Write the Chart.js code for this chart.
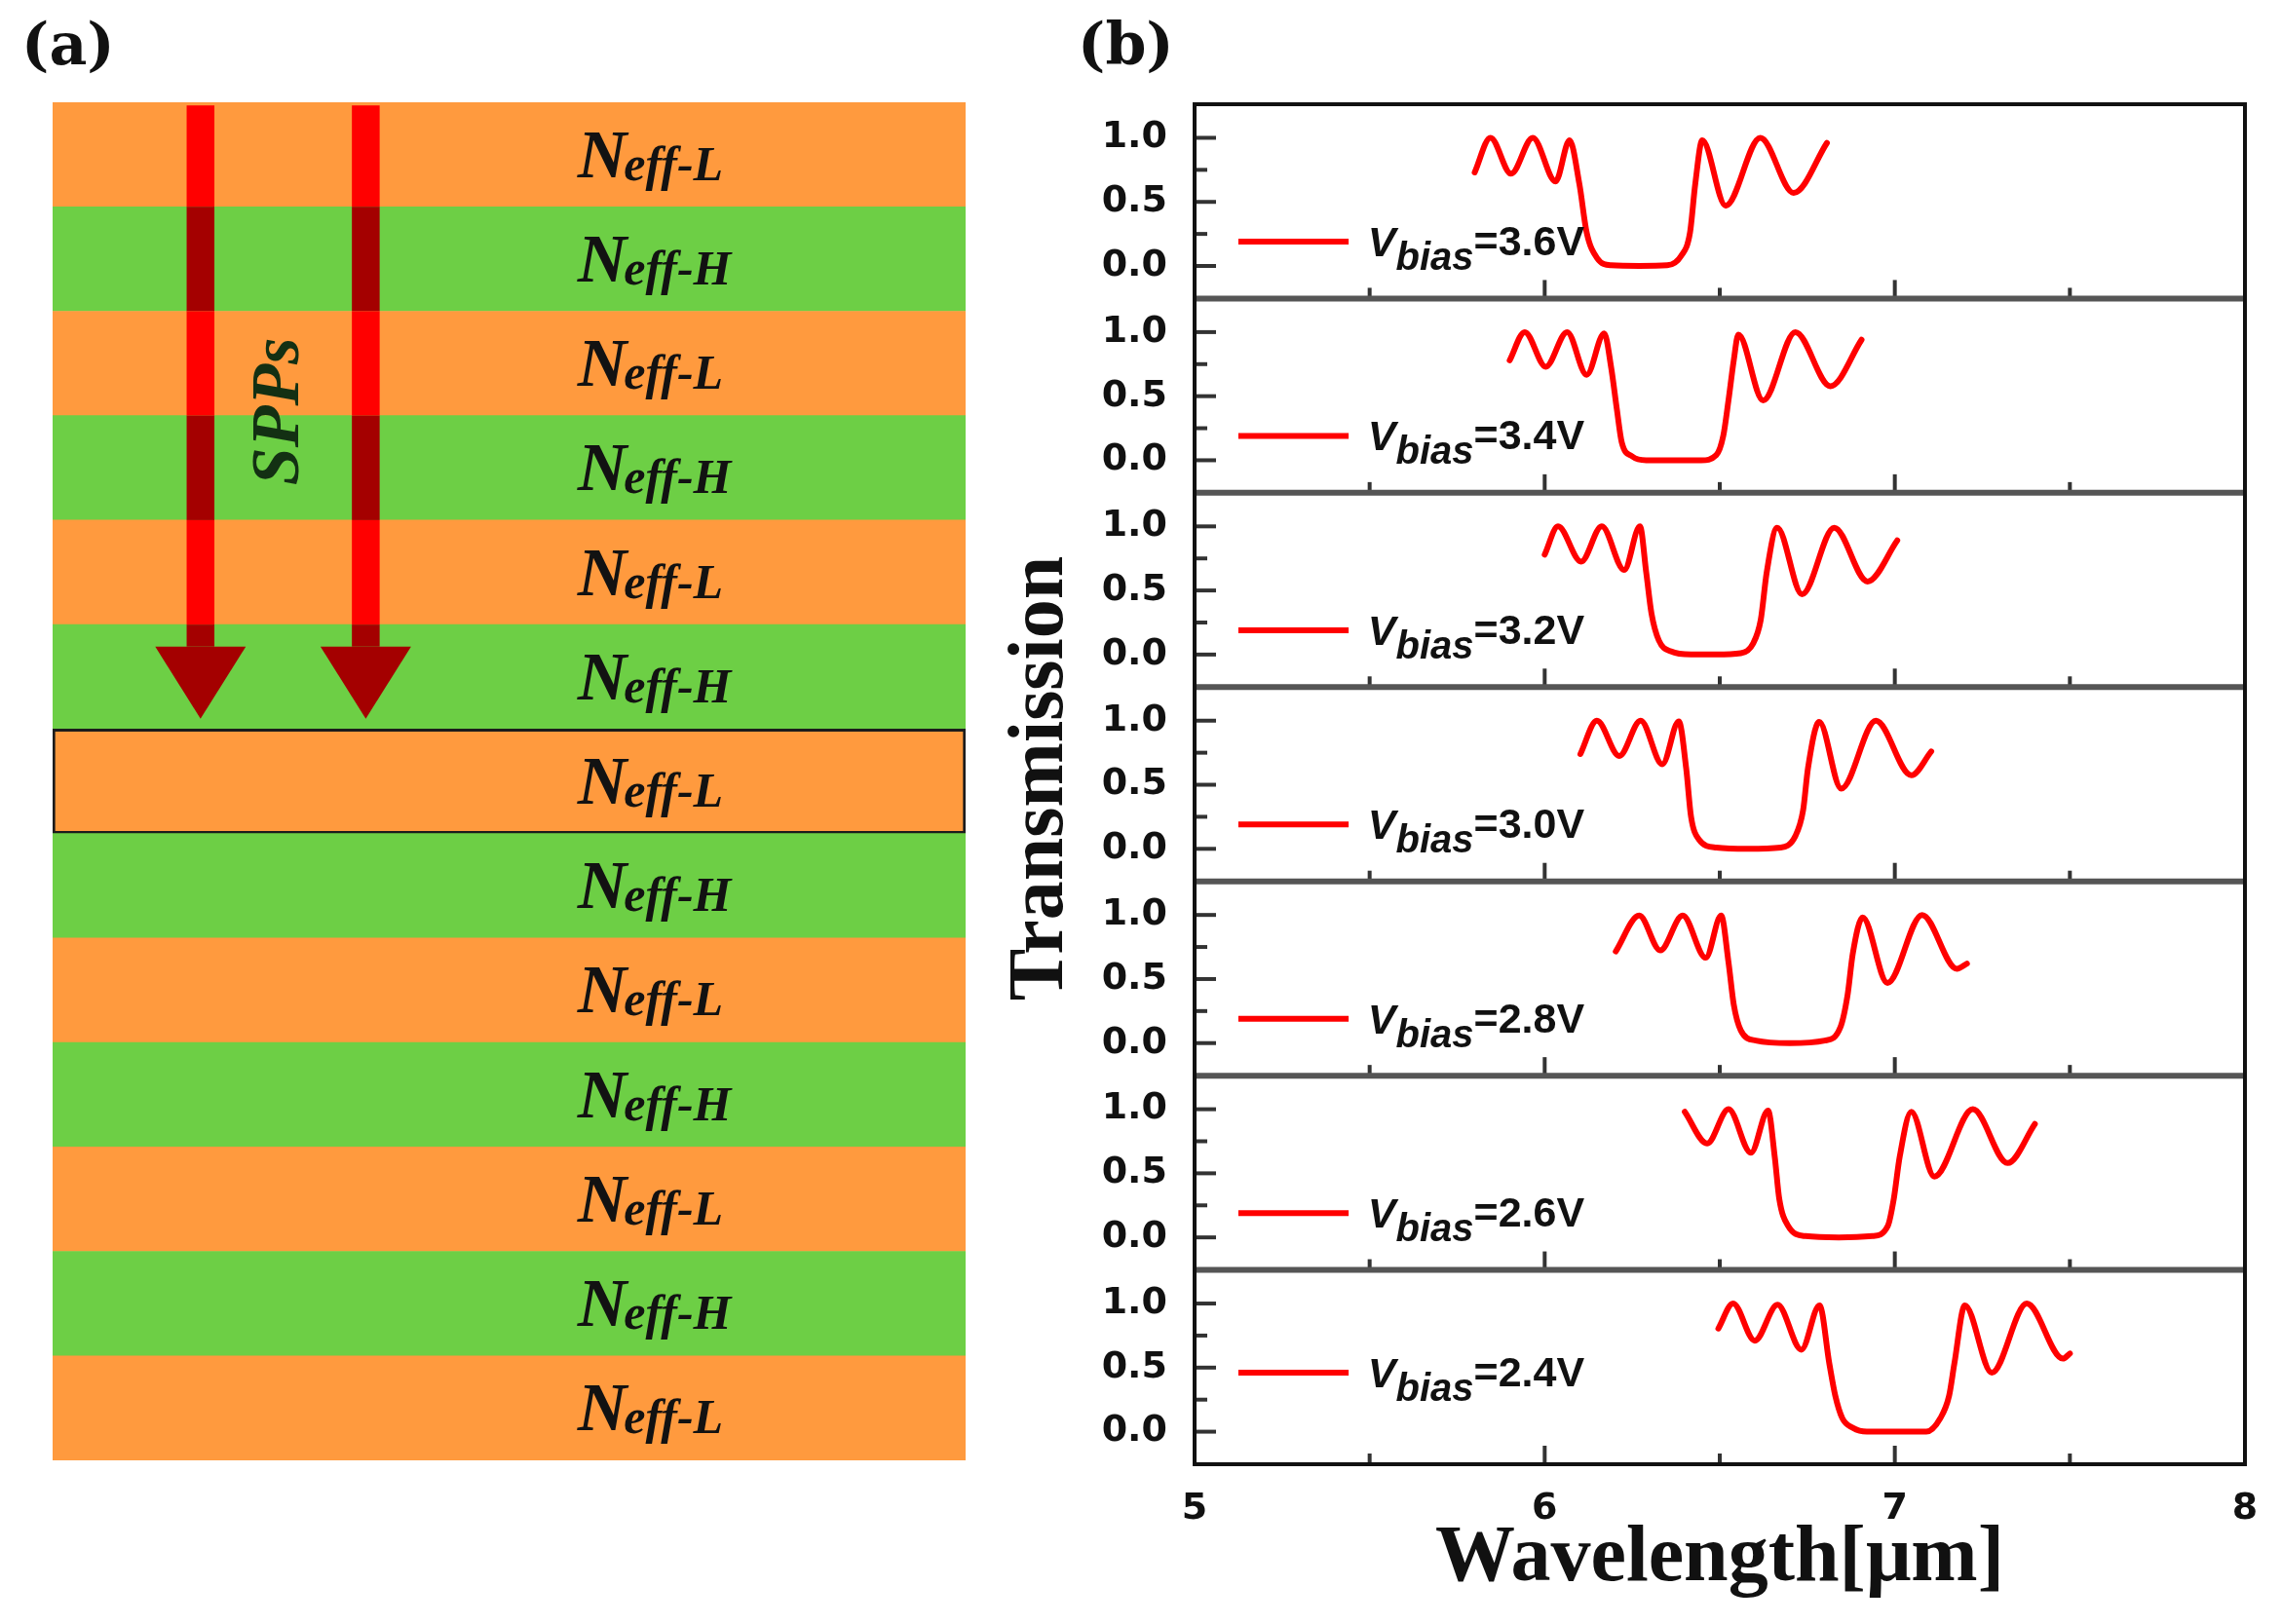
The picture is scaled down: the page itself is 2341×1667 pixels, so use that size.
<!DOCTYPE html>
<html><head><meta charset="utf-8">
<script src="https://cdn.jsdelivr.net/npm/chart.js@4.4.1/dist/chart.umd.min.js"></script>
<style>
html,body{margin:0;padding:0;background:#fff;}
body{width:2341px;height:1667px;position:relative;overflow:hidden;}
#wa{position:absolute;left:0;top:0;width:1000px;height:1667px;}
#wb{position:absolute;left:1000px;top:0;width:1341px;height:1667px;}
</style></head><body>
<div id="wa"><canvas id="ca"></canvas></div>
<div id="wb"><canvas id="cb"></canvas></div>
<script>
// ---------- panel (a) data ----------
const layerNames = ['L','H','L','H','L','H','L','H','L','H','L','H','L'];
const layerExtent = [1,1,1,1,1,1,1,1,1,1,1,1,1];
const outlinedLayer = 6;

// ---------- panel (b) data ----------
const biasLabels = ['3.6V','3.4V','3.2V','3.0V','2.8V','2.6V','2.4V'];
const wl36 = [5.80,5.845,5.904,5.966,6.031,6.071,6.099,6.12,6.15,6.19,6.27,6.35,6.39,6.415,6.43,6.45,6.517,6.616,6.711,6.806];
const tr36 = [0.73,1.0,0.72,1.0,0.66,0.98,0.64,0.26,0.06,0.005,0.0,0.005,0.08,0.26,0.64,0.98,0.47,1.0,0.57,0.96];
const wl34 = [5.90,5.943,6.003,6.064,6.12,6.17,6.19,6.206,6.22,6.25,6.29,6.37,6.447,6.49,6.51,6.525,6.54,6.553,6.624,6.716,6.816,6.905];
const tr34 = [0.78,1.0,0.73,1.0,0.667,0.99,0.72,0.40,0.14,0.03,0.0,0.0,0.0,0.04,0.19,0.47,0.78,0.98,0.467,1.0,0.578,0.94];
const wl32 = [6.0,6.038,6.104,6.163,6.227,6.272,6.29,6.305,6.326,6.36,6.418,6.49,6.56,6.596,6.617,6.634,6.664,6.735,6.827,6.922,7.007];
const tr32 = [0.78,1.0,0.725,1.0,0.66,1.0,0.64,0.32,0.11,0.025,0.0,0.0,0.01,0.09,0.27,0.64,0.99,0.47,0.99,0.57,0.89];
const wl30 = [6.102,6.149,6.213,6.274,6.336,6.383,6.404,6.418,6.44,6.49,6.58,6.674,6.716,6.738,6.752,6.784,6.847,6.946,7.047,7.104];
const tr30 = [0.74,1.0,0.725,1.0,0.66,0.995,0.63,0.25,0.075,0.01,0.0,0.01,0.10,0.30,0.63,0.99,0.47,1.0,0.574,0.76];
const wl28 = [6.203,6.27,6.33,6.394,6.46,6.504,6.525,6.54,6.56,6.603,6.70,6.80,6.844,6.865,6.88,6.908,6.979,7.078,7.177,7.206];
const tr28 = [0.716,0.995,0.724,0.995,0.666,0.995,0.63,0.30,0.10,0.02,0.0,0.02,0.12,0.375,0.70,0.98,0.47,1.0,0.58,0.62];
const wl26 = [6.40,6.464,6.525,6.589,6.638,6.657,6.67,6.695,6.745,6.84,6.936,6.98,6.997,7.014,7.047,7.113,7.223,7.322,7.40];
const tr26 = [0.98,0.733,1.0,0.66,0.99,0.63,0.30,0.09,0.01,0.0,0.01,0.09,0.30,0.63,0.98,0.475,1.0,0.58,0.885];
const wl24 = [6.496,6.538,6.60,6.665,6.733,6.785,6.813,6.83,6.85,6.88,6.92,7.0,7.09,7.13,7.155,7.17,7.20,7.277,7.377,7.48,7.50];
const tr24 = [0.805,1.0,0.71,0.99,0.64,0.985,0.53,0.28,0.105,0.03,0.0,0.0,0.0,0.105,0.28,0.53,0.985,0.46,1.0,0.57,0.61];
const xTickLabels = [5,6,7,8];
const yTickLabels = [0,0.5,1.0];
const xMinorTicks = [5.5,6.5,7.5];
const yMinorTicks = [0.25,0.75];

// ---------- styles / layout constants ----------
const ORANGE = '#FF9A3E', GREEN = '#6DCF45', RED = '#FF0000', DARKRED = '#A40000';
const arrowX = [0.162, 0.343];
const shaftHalf = 0.0152, headHalf = 0.0496;
const arrowStart = 0.03, arrowHeadBase = 5.21, arrowTip = 5.90;
const labelX = 0.575, sppX = 0.25, sppY = 2.96;
const legendLevel = [0.19,0.19,0.19,0.19,0.19,0.19,0.46];
const legendLine = [5.125, 5.44], legendTextX = 5.495;

const layerPlugin = {
  id: 'layers',
  afterDatasetsDraw(chart) {
    const ctx = chart.ctx, xs = chart.scales.x, ys = chart.scales.y;
    const py = u => ys.getPixelForValue(u - 0.5);
    ctx.save();
    arrowX.forEach(ax => {
      const l = xs.getPixelForValue(ax - shaftHalf), r = xs.getPixelForValue(ax + shaftHalf);
      for (let i = 0; i < layerNames.length; i++) {
        const a = Math.max(arrowStart, i), b = Math.min(arrowHeadBase, i + 1);
        if (b <= a) continue;
        ctx.fillStyle = layerNames[i] === 'L' ? RED : DARKRED;
        ctx.fillRect(l, py(a), r - l, py(b) - py(a));
      }
      ctx.fillStyle = DARKRED;
      ctx.beginPath();
      ctx.moveTo(xs.getPixelForValue(ax - headHalf), py(arrowHeadBase));
      ctx.lineTo(xs.getPixelForValue(ax + headHalf), py(arrowHeadBase));
      ctx.lineTo(xs.getPixelForValue(ax), py(arrowTip));
      ctx.closePath();
      ctx.fill();
    });
    ctx.textAlign = 'left';
    ctx.textBaseline = 'alphabetic';
    layerNames.forEach((n, i) => {
      const x0 = xs.getPixelForValue(labelX), yc = py(i + 0.5);
      ctx.fillStyle = '#121212';
      ctx.font = 'italic bold 70px "Liberation Serif"';
      ctx.fillText('N', x0, yc + 23);
      const w = ctx.measureText('N').width;
      ctx.font = 'italic bold 50px "Liberation Serif"';
      ctx.fillText('eff-' + n, x0 + w - 3, yc + 26);
    });
    ctx.save();
    ctx.translate(xs.getPixelForValue(sppX), py(sppY));
    ctx.rotate(-Math.PI / 2);
    ctx.font = 'italic bold 70px "Liberation Serif"';
    ctx.textAlign = 'center';
    ctx.textBaseline = 'middle';
    ctx.fillStyle = '#133013';
    ctx.fillText('SPPs', 0, 0);
    ctx.restore();
    ctx.font = 'bold 60px "DejaVu Serif"';
    ctx.fillStyle = '#111';
    ctx.textAlign = 'left';
    ctx.fillText('(a)', 22, 66);
    ctx.restore();
  }
};

new Chart(document.getElementById('ca'), {
  type: 'bar',
  data: {
    labels: layerNames.map((n, i) => 'Neff-' + n + ' #' + (i + 1)),
    datasets: [{
      data: layerExtent,
      backgroundColor: layerNames.map(n => n === 'L' ? ORANGE : GREEN),
      borderColor: layerNames.map((n, i) => i === outlinedLayer ? '#1c1c1c' : 'rgba(0,0,0,0)'),
      borderWidth: layerNames.map((n, i) => i === outlinedLayer ? 3 : 0),
      borderSkipped: false,
      barPercentage: 1,
      categoryPercentage: 1
    }]
  },
  options: {
    indexAxis: 'y',
    responsive: true, maintainAspectRatio: false, animation: false, devicePixelRatio: 1,
    layout: { padding: { left: 54, right: 9, top: 105, bottom: 168 } },
    scales: { x: { display: false, min: 0, max: 1 }, y: { display: false } },
    plugins: { legend: { display: false }, tooltip: { enabled: false } }
  },
  plugins: [layerPlugin]
});

// ---------- panel (b) ----------
const series = [[wl36,tr36],[wl34,tr34],[wl32,tr32],[wl30,tr30],[wl28,tr28],[wl26,tr26],[wl24,tr24]];
const panelAxisIds = series.map((s, i) => 'y' + i);

const tickFont = { family: 'DejaVu Sans', size: 38, weight: 'bold' };
const yScales = {};
panelAxisIds.forEach((id, i) => {
  yScales[id] = {
    type: 'linear', axis: 'y', position: 'left', stack: 'panels', stackWeight: 1, weight: 10 - i,
    min: -0.254, max: 1.262,
    afterBuildTicks: s => { s.ticks = yTickLabels.map(v => ({ value: v })); },
    afterFit: s => { s.width = 226; },
    ticks: { font: tickFont, color: '#111', padding: 20, autoSkip: false, callback: v => Number(v).toFixed(1) },
    grid: { display: false },
    border: { display: false }
  };
});

const framePlugin = {
  id: 'frames',
  afterDatasetsDraw(chart) {
    const ctx = chart.ctx, ca = chart.chartArea, xs = chart.scales.x;
    const line = (x1, y1, x2, y2) => { ctx.beginPath(); ctx.moveTo(x1, y1); ctx.lineTo(x2, y2); ctx.stroke(); };
    ctx.save();
    ctx.strokeStyle = '#333';
    ctx.lineWidth = 4;
    panelAxisIds.forEach(id => {
      const s = chart.scales[id];
      yTickLabels.forEach(v => { const y = s.getPixelForValue(v); line(ca.left, y, ca.left + 22, y); });
      yMinorTicks.forEach(v => { const y = s.getPixelForValue(v); line(ca.left, y, ca.left + 13, y); });
      xTickLabels.forEach(v => { const x = xs.getPixelForValue(v); line(x, s.bottom, x, s.bottom - 19); });
      xMinorTicks.forEach(v => { const x = xs.getPixelForValue(v); line(x, s.bottom, x, s.bottom - 11); });
    });
    ctx.strokeStyle = '#555';
    ctx.lineWidth = 6;
    panelAxisIds.forEach(id => {
      const s = chart.scales[id];
      if (Math.abs(s.bottom - ca.bottom) > 2) line(ca.left, s.bottom, ca.right, s.bottom);
    });
    ctx.strokeStyle = '#111';
    ctx.lineWidth = 4;
    ctx.strokeRect(ca.left, ca.top, ca.right - ca.left, ca.bottom - ca.top);

    // per-panel legends
    chart.data.datasets.forEach((ds, i) => {
      const s = chart.scales[ds.yAxisID];
      const y = s.getPixelForValue(legendLevel[i]);
      ctx.strokeStyle = RED;
      ctx.lineWidth = 6;
      line(xs.getPixelForValue(legendLine[0]), y, xs.getPixelForValue(legendLine[1]), y);
      let x = xs.getPixelForValue(legendTextX);
      ctx.fillStyle = '#111';
      ctx.textAlign = 'left';
      ctx.textBaseline = 'alphabetic';
      ctx.font = 'italic bold 43px "Liberation Sans"';
      ctx.fillText('V', x, y + 15);
      x += ctx.measureText('V').width;
      ctx.font = 'italic bold 40px "Liberation Sans"';
      ctx.fillText('bias', x, y + 29);
      x += ctx.measureText('bias').width;
      ctx.font = 'bold 43px "Liberation Sans"';
      ctx.fillText('=' + biasLabels[i], x, y + 14);
    });

    ctx.save();
    ctx.translate(69, (ca.top + ca.bottom) / 2 - 6);
    ctx.rotate(-Math.PI / 2);
    ctx.font = 'bold 80px "Liberation Serif"';
    ctx.fillStyle = '#111';
    ctx.textAlign = 'center';
    ctx.textBaseline = 'middle';
    ctx.fillText('Transmission', 0, 0);
    ctx.restore();

    ctx.font = 'bold 60px "DejaVu Serif"';
    ctx.fillStyle = '#111';
    ctx.textAlign = 'left';
    ctx.textBaseline = 'alphabetic';
    ctx.fillText('(b)', 106, 66);
    ctx.restore();
  }
};

new Chart(document.getElementById('cb'), {
  type: 'line',
  data: {
    datasets: series.map((s, i) => ({
      label: 'Vbias=' + biasLabels[i],
      data: s[0].map((x, j) => ({ x: x, y: s[1][j] })),
      xAxisID: 'x',
      yAxisID: panelAxisIds[i],
      borderColor: RED,
      borderWidth: 6,
      pointRadius: 0,
      fill: false,
      cubicInterpolationMode: 'monotone',
      borderJoinStyle: 'round',
      borderCapStyle: 'round'
    }))
  },
  options: {
    responsive: true, maintainAspectRatio: false, animation: false, devicePixelRatio: 1,
    layout: { padding: { left: 0, right: 37, top: 107, bottom: 0 } },
    scales: Object.assign({
      x: {
        type: 'linear', position: 'bottom', min: 5, max: 8,
        afterBuildTicks: s => { s.ticks = xTickLabels.map(v => ({ value: v })); },
        afterFit: s => { s.height = 164; },
        ticks: { font: tickFont, color: '#111', padding: 15, autoSkip: false, maxRotation: 0, callback: v => String(v) },
        grid: { display: false },
        border: { display: false },
        title: { display: true, text: 'Wavelength[μm]', color: '#111',
          font: { family: 'Liberation Serif', size: 82, weight: 'bold' }, padding: { top: 0, bottom: 17 } }
      }
    }, yScales),
    plugins: { legend: { display: false }, tooltip: { enabled: false } }
  },
  plugins: [framePlugin]
});
</script></body></html>
